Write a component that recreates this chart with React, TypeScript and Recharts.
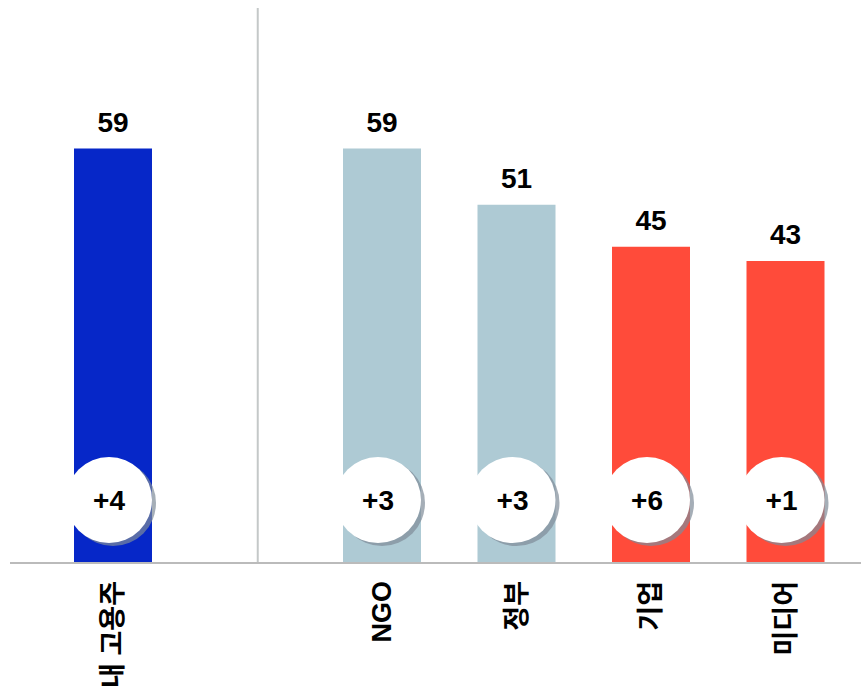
import React from 'react';
import { BarChart, Bar, XAxis, YAxis, Cell, LabelList, ReferenceLine } from 'recharts';

const categories = ['내 고용주', ' ', 'NGO', '정부', '기업', '미디어'];
const trustValues = [59, null, 59, 51, 45, 43];
const changeLabels = ['+4', '', '+3', '+3', '+6', '+1'];
const barColors = ['#0627C8', 'transparent', '#AECAD4', '#AECAD4', '#FF4B3A', '#FF4B3A'];

const data = categories.map((name, i) => ({
  name,
  value: trustValues[i],
  change: changeLabels[i],
}));

const FONT = '"Liberation Sans", Arial, "Noto Sans CJK KR", sans-serif';

const ValueLabel = (props: any) => {
  const { x, y, width, value } = props;
  if (value == null) return null;
  return (
    <text x={x + width / 2} y={y - 17} textAnchor="middle" fontFamily={FONT} fontWeight="bold" fontSize={28} fill="#000">
      {value}
    </text>
  );
};

const ChangeBadge = (props: any) => {
  const { x, y, width, height, value } = props;
  if (!value) return null;
  const cx = x + width / 2 - 4;
  const cy = y + height - 63;
  return (
    <g>
      <circle cx={cx + 4} cy={cy + 3} r={43} fill="#7f8c99" opacity={0.7} />
      <circle cx={cx} cy={cy} r={43} fill="#fff" />
      <text x={cx} y={cy} dy={10} textAnchor="middle" fontFamily={FONT} fontWeight="bold" fontSize={28} fill="#000">
        {value}
      </text>
    </g>
  );
};

const CategoryTick = (props: any) => {
  const { x, y, payload } = props;
  const ty = y + 10;
  return (
    <text
      x={x}
      y={ty}
      transform={`rotate(-90, ${x}, ${ty})`}
      textAnchor="end"
      dominantBaseline="central"
      fontFamily={FONT}
      fontWeight="bold"
      fontSize={27}
      fill="#000"
    >
      {payload.value}
    </text>
  );
};

export default function App() {
  return (
    <div style={{ position: 'absolute', left: 0, top: 0, background: '#fff' }}>
      <BarChart width={861} height={696} data={data} margin={{ top: 8, right: 0, bottom: 0, left: 10 }} barCategoryGap={0}>
        <YAxis hide domain={[0, 79]} />
        <XAxis
          dataKey="name"
          height={133}
          padding={{ left: 36, right: 8 }}
          axisLine={{ stroke: '#BBBBBB', strokeWidth: 2 }}
          tickLine={false}
          tick={<CategoryTick />}
          interval={0}
        />
        <ReferenceLine
          x=" "
          stroke="#C4C8C8"
          strokeWidth={2}
          shape={(p: any) => <line x1={p.x1 + 10} x2={p.x2 + 10} y1={p.y1} y2={p.y2} stroke="#C4C8C8" strokeWidth={2} />}
        />
        <Bar dataKey="value" barSize={78} isAnimationActive={false}>
          {data.map((d, i) => (
            <Cell key={d.name} fill={barColors[i]} />
          ))}
          <LabelList dataKey="value" content={<ValueLabel />} />
          <LabelList dataKey="change" content={<ChangeBadge />} />
        </Bar>
      </BarChart>
    </div>
  );
}
